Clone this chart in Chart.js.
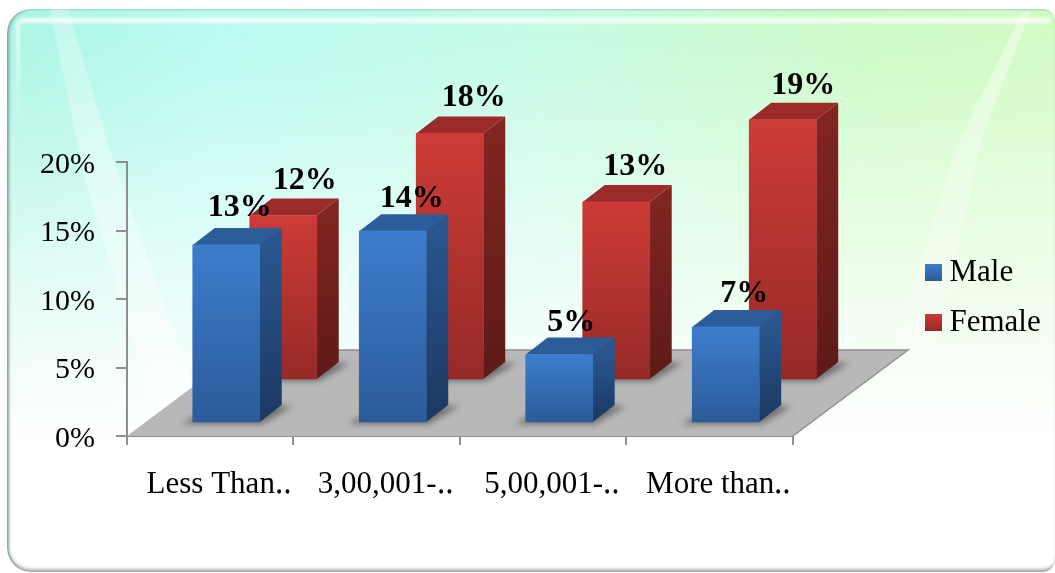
<!DOCTYPE html>
<html>
<head>
<meta charset="utf-8">
<style>
  html, body { margin: 0; padding: 0; background: #fff; overflow: hidden; }
  #wrap { position: relative; width: 1055px; height: 573px; overflow: hidden; }
  #panel {
    position: absolute; left: 7px; top: 9px; width: 1048px; height: 563px;
    border-radius: 24px 12px 12px 24px; overflow: hidden;
    background:
      linear-gradient(to bottom, rgba(255,255,255,0) 0, rgba(255,255,255,.12) 12%, rgba(255,255,255,.55) 40%, rgba(255,255,255,.85) 62%, #fff 78%),
      linear-gradient(90deg, #a9f5e2 0, #b8fbf2 20%, #c4fbe6 50%, #cdfbc6 82%, #d2fbc4 100%);
    box-shadow: inset 3px 0 3px -1px #7f9f9b, inset 0 -5px 4px -3px #8f8f8f, inset 0 2px 2px -1px #a8d8c8;
  }
  .streak { position: absolute; left: -7px; top: -9px; width: 1055px; height: 573px; }
  #s1 { clip-path: polygon(50px 9px, 68px 9px, 110px 150px, 215px 450px, 165px 450px, 85px 180px);
        background: linear-gradient(to bottom, rgba(255,255,255,.28), rgba(255,255,255,.5)); filter: blur(1px); }
  #s2 { clip-path: polygon(1030px 12px, 1022px 12px, 955px 150px, 890px 360px, 930px 360px, 985px 130px);
        background: linear-gradient(to bottom, rgba(255,255,255,.4), rgba(255,255,255,.1)); filter: blur(2px); }
  #gloss { position: absolute; left: 12px; right: 4px; top: 9px; height: 5px; border-radius: 4px;
           background: rgba(255,255,255,.8); filter: blur(1.5px); }
  #glossLeft { position: absolute; left: 9px; top: 12px; width: 4px; height: 110px;
               background: linear-gradient(to bottom, rgba(255,255,255,.7), rgba(255,255,255,0)); filter: blur(1.5px); }
  canvas { position: absolute; left: 0; top: 0; }
</style>
<script src="https://cdn.jsdelivr.net/npm/chart.js@4"></script>
</head>
<body>
<div id="wrap">
  <div id="panel">
    <div class="streak" id="s1"></div>
    <div class="streak" id="s2"></div>
    <div id="gloss"></div>
    <div id="glossLeft"></div>
  </div>
  <canvas id="myChart" width="1055" height="573"></canvas>
</div>
<script>
const categories = ["Less Than‥", "3,00,001-‥", "5,00,001-‥", "More than‥"];
const seriesNames = ["Male", "Female"];
const maleValues = [13, 14, 5, 7];
const femaleValues = [12, 18, 13, 19];

const fontFamily = "'Liberation Serif'";
const axisColor = "#8f8f8f";
// how far each row of bars sits back on the floor, and the depth of a bar
const rowShift = [[16, -13], [73, -56]];
const barDepth = [22, -17];
const floorDepth = [115, -86];
// value labels are not placed evenly in the original
const labelNudge = [
  [[-3.5, -5], [2, 0], [-5, 0], [1.5, -1]],
  [[4.5, -3], [7, -3], [2, -3], [3.5, -2]],
];

const faceColors = [
  { front: ["#3d7dcd", "#2b5b99"], side: ["#29568e", "#1b3862"], top: "#2b5d9b" },
  { front: ["#cd3b37", "#962a27"], side: ["#802522", "#5d1a18"], top: "#9a2b29" },
];

function frontGradient(ctx) {
  const chart = ctx.chart;
  const colors = faceColors[ctx.datasetIndex].front;
  if (!chart.chartArea || !ctx.parsed) return colors[0];
  const y = chart.scales.y;
  const g = chart.ctx.createLinearGradient(0, y.getPixelForValue(ctx.parsed.y), 0, y.getPixelForValue(0));
  g.addColorStop(0, colors[0]);
  g.addColorStop(1, colors[1]);
  return g;
}

function legendSwatch(colors) {
  const c = document.createElement("canvas");
  c.width = 17;
  c.height = 17;
  const cx = c.getContext("2d");
  const g = cx.createLinearGradient(0, 0, 0, 17);
  g.addColorStop(0, colors[0]);
  g.addColorStop(1, colors[1]);
  cx.fillStyle = g;
  cx.fillRect(0, 0, 17, 17);
  return c;
}

function poly(ctx, pts) {
  ctx.beginPath();
  pts.forEach((p, i) => (i ? ctx.lineTo(p[0], p[1]) : ctx.moveTo(p[0], p[1])));
  ctx.closePath();
}

const floorPlugin = {
  id: "floor",
  afterLayout(chart) {
    // legend goes to where the original has it
    const legend = chart.legend;
    const w = legend.width, h = legend.height;
    legend.left = 913;
    legend.right = legend.left + w;
    legend.top = 238;
    legend.bottom = legend.top + h;
  },
  beforeDatasetsDraw(chart) {
    const { ctx, chartArea: a } = chart;
    const b = a.bottom, l = a.left, r = a.right;
    const dx = floorDepth[0], dy = floorDepth[1];
    ctx.save();
    ctx.fillStyle = "#b8b8b8";
    poly(ctx, [[l, b], [r, b], [r + dx, b + dy], [l + dx, b + dy]]);
    ctx.fill();
    ctx.strokeStyle = axisColor;
    ctx.lineWidth = 1.5;
    ctx.beginPath();
    ctx.moveTo(l + dx, b + dy);
    ctx.lineTo(r + dx, b + dy);
    ctx.lineTo(r, b);
    ctx.stroke();
    ctx.restore();
  },
  beforeDatasetDraw(chart, args) {
    const { ctx } = chart;
    const i = args.index;
    const colors = faceColors[i];
    const dx = barDepth[0], dy = barDepth[1];
    ctx.save();
    ctx.translate(rowShift[i][0], rowShift[i][1]);
    chart.getDatasetMeta(i).data.forEach((bar) => {
      const x0 = bar.x - bar.width / 2, x1 = bar.x + bar.width / 2;
      const top = bar.y, base = bar.base;

      // soft shadow on the floor
      ctx.save();
      ctx.filter = "blur(3px)";
      ctx.fillStyle = "rgba(60,60,60,.6)";
      poly(ctx, [[x0 - 11, base + 2], [x1 + 2, base + 2], [x1 + dx + 11, base + dy + 1], [x0 + dx, base + dy + 1]]);
      ctx.fill();
      ctx.restore();

      // right side
      const side = ctx.createLinearGradient(0, top, 0, base);
      side.addColorStop(0, colors.side[0]);
      side.addColorStop(1, colors.side[1]);
      ctx.fillStyle = side;
      poly(ctx, [[x1, top], [x1 + dx, top + dy], [x1 + dx, base + dy], [x1, base]]);
      ctx.fill();

      // top
      ctx.fillStyle = colors.top;
      poly(ctx, [[x0, top], [x0 + dx, top + dy], [x1 + dx, top + dy], [x1, top]]);
      ctx.fill();
    });
  },
  afterDatasetDraw(chart) {
    chart.ctx.restore();
  },
  afterDatasetsDraw(chart) {
    const { ctx } = chart;
    ctx.save();
    ctx.fillStyle = "#000";
    ctx.font = "bold 32px " + fontFamily;
    ctx.textAlign = "center";
    ctx.textBaseline = "alphabetic";
    // female labels first so the male ones stay on top
    [1, 0].forEach((i) => {
      chart.getDatasetMeta(i).data.forEach((bar, j) => {
        const v = chart.data.datasets[i].data[j];
        const nudge = labelNudge[i][j];
        ctx.fillText(v + "%", bar.x + rowShift[i][0] + 17 + nudge[0], bar.y + rowShift[i][1] - 24 + nudge[1]);
      });
    });
    ctx.restore();
  },
};

new Chart(document.getElementById("myChart"), {
  type: "bar",
  data: {
    labels: categories,
    datasets: [
      { label: seriesNames[0], data: maleValues, backgroundColor: frontGradient, grouped: false, barThickness: 67, clip: false },
      { label: seriesNames[1], data: femaleValues, backgroundColor: frontGradient, grouped: false, barThickness: 67, clip: false },
    ],
  },
  plugins: [floorPlugin],
  options: {
    responsive: false,
    animation: false,
    layout: { padding: { top: 162, right: 124.3, left: 0, bottom: 0 } },
    scales: {
      x: {
        afterFit: (s) => { s.height = 137; },
        border: { color: axisColor, width: 2 },
        grid: { drawOnChartArea: false, color: axisColor, lineWidth: 2, tickLength: 9 },
        ticks: {
          color: "#000",
          font: { family: fontFamily, size: 31 },
          padding: 21,
          labelOffset: 9,
          maxRotation: 0,
          autoSkip: false,
        },
      },
      y: {
        min: 0,
        max: 20,
        afterFit: (s) => { s.width = 127; },
        border: { color: axisColor, width: 2 },
        grid: { drawOnChartArea: false, color: axisColor, lineWidth: 2, tickLength: 11 },
        ticks: {
          stepSize: 5,
          color: "#000",
          font: { family: fontFamily, size: 30 },
          padding: 21,
          labelOffset: 3,
          callback: (v) => v + "%",
        },
      },
    },
    plugins: {
      tooltip: { enabled: false },
      legend: {
        position: "right",
        align: "start",
        labels: {
          color: "#000",
          font: { family: fontFamily, size: 31 },
          usePointStyle: true,
          pointStyleWidth: 2,
          boxHeight: 17,
          padding: 19,
          generateLabels: () =>
            seriesNames.map((name, i) => ({
              text: name,
              pointStyle: legendSwatch(faceColors[i].front),
              fontColor: "#000",
              lineWidth: 0,
              datasetIndex: i,
            })),
        },
      },
    },
  },
});
</script>
</body>
</html>
